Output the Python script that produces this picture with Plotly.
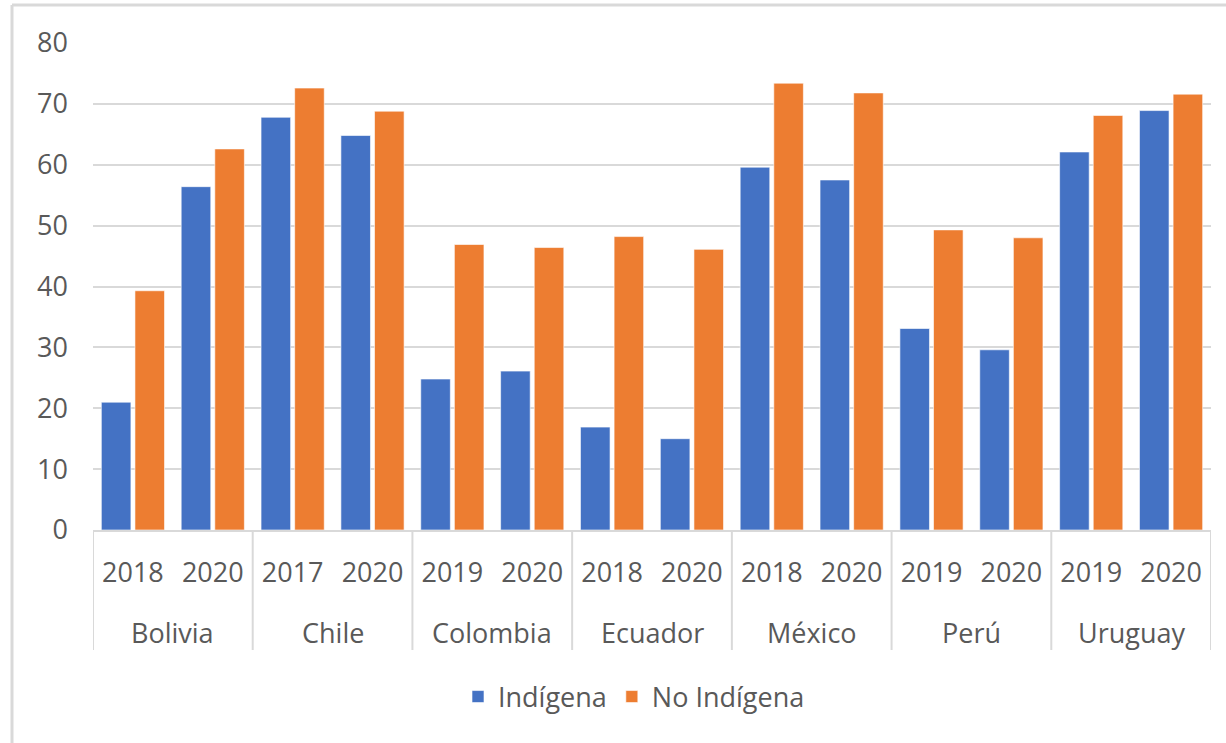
import plotly.graph_objects as go

countries = ["Bolivia", "Chile", "Colombia", "Ecuador", "México", "Perú", "Uruguay"]
years = [["2018", "2020"], ["2017", "2020"], ["2019", "2020"], ["2018", "2020"],
         ["2018", "2020"], ["2019", "2020"], ["2019", "2020"]]
indigena = [21.0, 56.4, 67.8, 64.8, 24.8, 26.1, 16.9, 15.0, 59.6, 57.5, 33.1, 29.6, 62.1, 68.9]
no_indigena = [39.3, 62.6, 72.6, 68.8, 46.9, 46.4, 48.2, 46.1, 73.4, 71.8, 49.3, 48.0, 68.1, 71.6]

year_labels = [y for ys in years for y in ys]
positions = list(range(len(year_labels)))

FONT = "Open Sans"
TXT = "#595959"
GRID = "#D9D9D9"
FS = 27

fig = go.Figure()
fig.add_trace(go.Bar(x=positions, y=indigena, name="Indígena",
                     marker=dict(color="#4472C4", line=dict(color="rgba(255,255,255,0.6)", width=1))))
fig.add_trace(go.Bar(x=positions, y=no_indigena, name="No Indígena",
                     marker=dict(color="#ED7D31", line=dict(color="rgba(255,255,255,0.6)", width=1))))

W, H = 1226, 743
ml, mt = 93, 43
pw, ph = 1118, 487
mr = W - ml - pw
mb = H - mt - ph
base = mt + ph  # y of the x axis

shapes = []
start = 0
bounds = [start]
for ys in years:
    start += len(ys)
    bounds.append(start)
for b in bounds:
    shapes.append(dict(type="line", xref="x", yref="paper", x0=b - 0.5, x1=b - 0.5,
                       y0=0, y1=-120 / ph, line=dict(color=GRID, width=2)))
# chart border (left & top)
bx = (12 - ml) / pw
by = (base - 5) / ph
shapes.append(dict(type="line", xref="paper", yref="paper", x0=bx, x1=bx,
                   y0=by, y1=-1, line=dict(color=GRID, width=3)))
shapes.append(dict(type="line", xref="paper", yref="paper", x0=bx, x1=1.2,
                   y0=by, y1=by, line=dict(color=GRID, width=3)))

annotations = []
for i, c in enumerate(countries):
    center = (bounds[i] + bounds[i + 1] - 1) / 2
    annotations.append(dict(text=c, x=center, xref="x", y=-(632 - base) / ph, yref="paper",
                            yanchor="middle", showarrow=False,
                            font=dict(family=FONT, size=FS, color=TXT)))

fig.update_layout(
    width=W, height=H,
    margin=dict(l=ml, r=mr, t=mt, b=mb),
    paper_bgcolor="white", plot_bgcolor="white",
    barmode="group", bargap=0.158, bargroupgap=0.12,
    font=dict(family=FONT, size=FS, color=TXT),
    shapes=shapes, annotations=annotations,
    legend=dict(orientation="h", x=(634 - ml) / pw, xanchor="center",
                y=-(697 - base) / ph, yanchor="middle",
                font=dict(family=FONT, size=FS, color=TXT), itemwidth=30),
    showlegend=True,
)
fig.update_xaxes(range=[-0.5, len(year_labels) - 0.5], tickmode="array", tickvals=positions,
                 ticktext=year_labels, showgrid=False, zeroline=False, showline=True,
                 linecolor=GRID, linewidth=2, ticks="", ticklabelstandoff=18,
                 tickfont=dict(family=FONT, size=FS, color=TXT))
fig.update_yaxes(range=[0, 80], dtick=10, showgrid=True, gridcolor=GRID, gridwidth=2,
                 zeroline=False, showline=False, ticks="", ticklabelstandoff=24,
                 tickfont=dict(family=FONT, size=FS, color=TXT))

fig.write_html("out.html", config={"displayModeBar": False},
               post_script="document.body.style.margin='0';document.body.style.overflow='hidden';")
